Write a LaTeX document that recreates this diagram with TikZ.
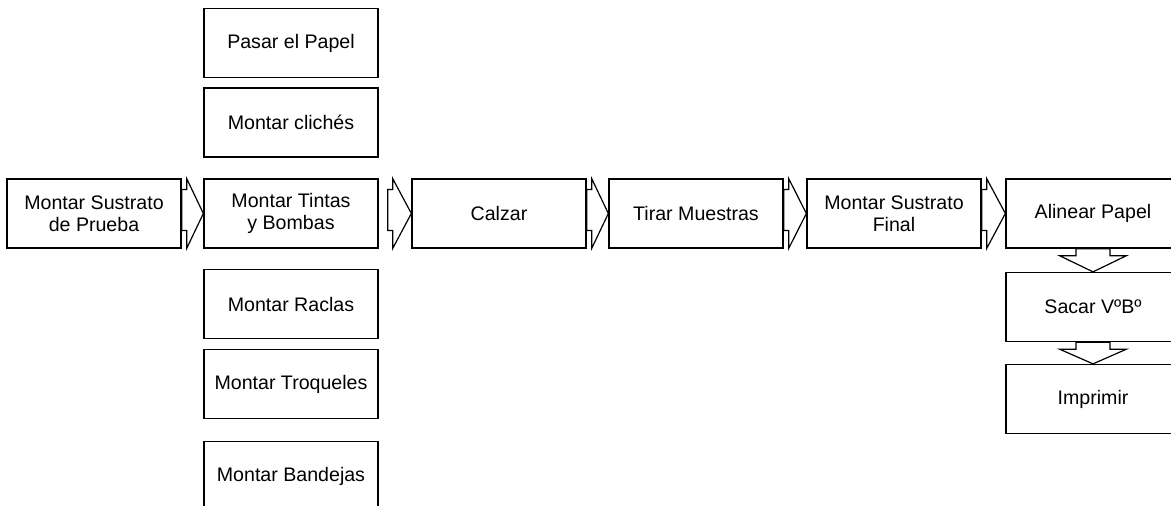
\documentclass[tikz,border=0pt]{standalone}
\usepackage{fontspec}
\setmainfont{Liberation Sans}
\usetikzlibrary{calc}

\tikzset{
  stepbox/.style={draw=black, line width=1.3pt, fill=white, rectangle,
    minimum width=174pt, minimum height=69pt, inner sep=2pt, align=center,
    font=\fontsize{19.6pt}{22pt}\selectfont},
  blockarrow/.style={draw=black, line width=1.2pt, fill=white, line join=miter}
}

\begin{document}
\begin{tikzpicture}[x=1pt, y=1pt]
  \useasboundingbox (0,0) rectangle (1171,-506);
  \clip (0,0) rectangle (1171,-506);

  % main row
  \node[stepbox] (b1) at (94,-213.5)   {Montar Sustrato\\de Prueba};
  \node[stepbox] (b2) at (291,-213.5)  {Montar Tintas\\y Bombas};
  \node[stepbox] (b3) at (499,-213.5)  {Calzar};
  \node[stepbox] (b4) at (696,-213.5)  {Tirar Muestras};
  \node[stepbox] (b5) at (894,-213.5)  {Montar Sustrato\\Final};
  \node[stepbox] (b6) at (1093,-213.5) {Alinear Papel};

  % right column
  \node[stepbox] (vb)  at (1093,-307) {Sacar VºBº};
  \node[stepbox] (imp) at (1093,-399) {Imprimir};

  % parallel tasks around the second step
  \node[stepbox] (pasar)     at (291,-43)    {Pasar el Papel};
  \node[stepbox] (cliches)   at (291,-122.5) {Montar clichés};
  \node[stepbox] (raclas)    at (291,-304)   {Montar Raclas};
  \node[stepbox] (troqueles) at (291,-384)   {Montar Troqueles};
  \node[stepbox] (bandejas)  at (291,-476)   {Montar Bandejas};

  % horizontal block arrows: start coordinate, target node
  \newcommand{\rightblock}[2]{%
    \draw[blockarrow] ($#1+(0,24)$) -- ++(5,0) -- ++(0,11) -- (#2.west)
      -- ($#1+(5,-35)$) -- ++(0,18) -- ++(-5,0) -- cycle;}
  \rightblock{(b1.east)}{b2}
  \rightblock{($(b2.east)+(9,0)$)}{b3}
  \rightblock{(b3.east)}{b4}
  \rightblock{(b4.east)}{b5}
  \rightblock{(b5.east)}{b6}

  % vertical block arrows
  \newcommand{\downblock}[2]{%
    \draw[blockarrow] ($#1+(-17,0)$) -- ++(0,-7) -- ++(-16.5,0) -- (#2.north)
      -- ($#1+(33.5,-7)$) -- ++(-16.5,0) -- ++(0,7) -- cycle;}
  \downblock{(b6.south)}{vb}
  \downblock{(vb.south)}{imp}
\end{tikzpicture}
\end{document}
